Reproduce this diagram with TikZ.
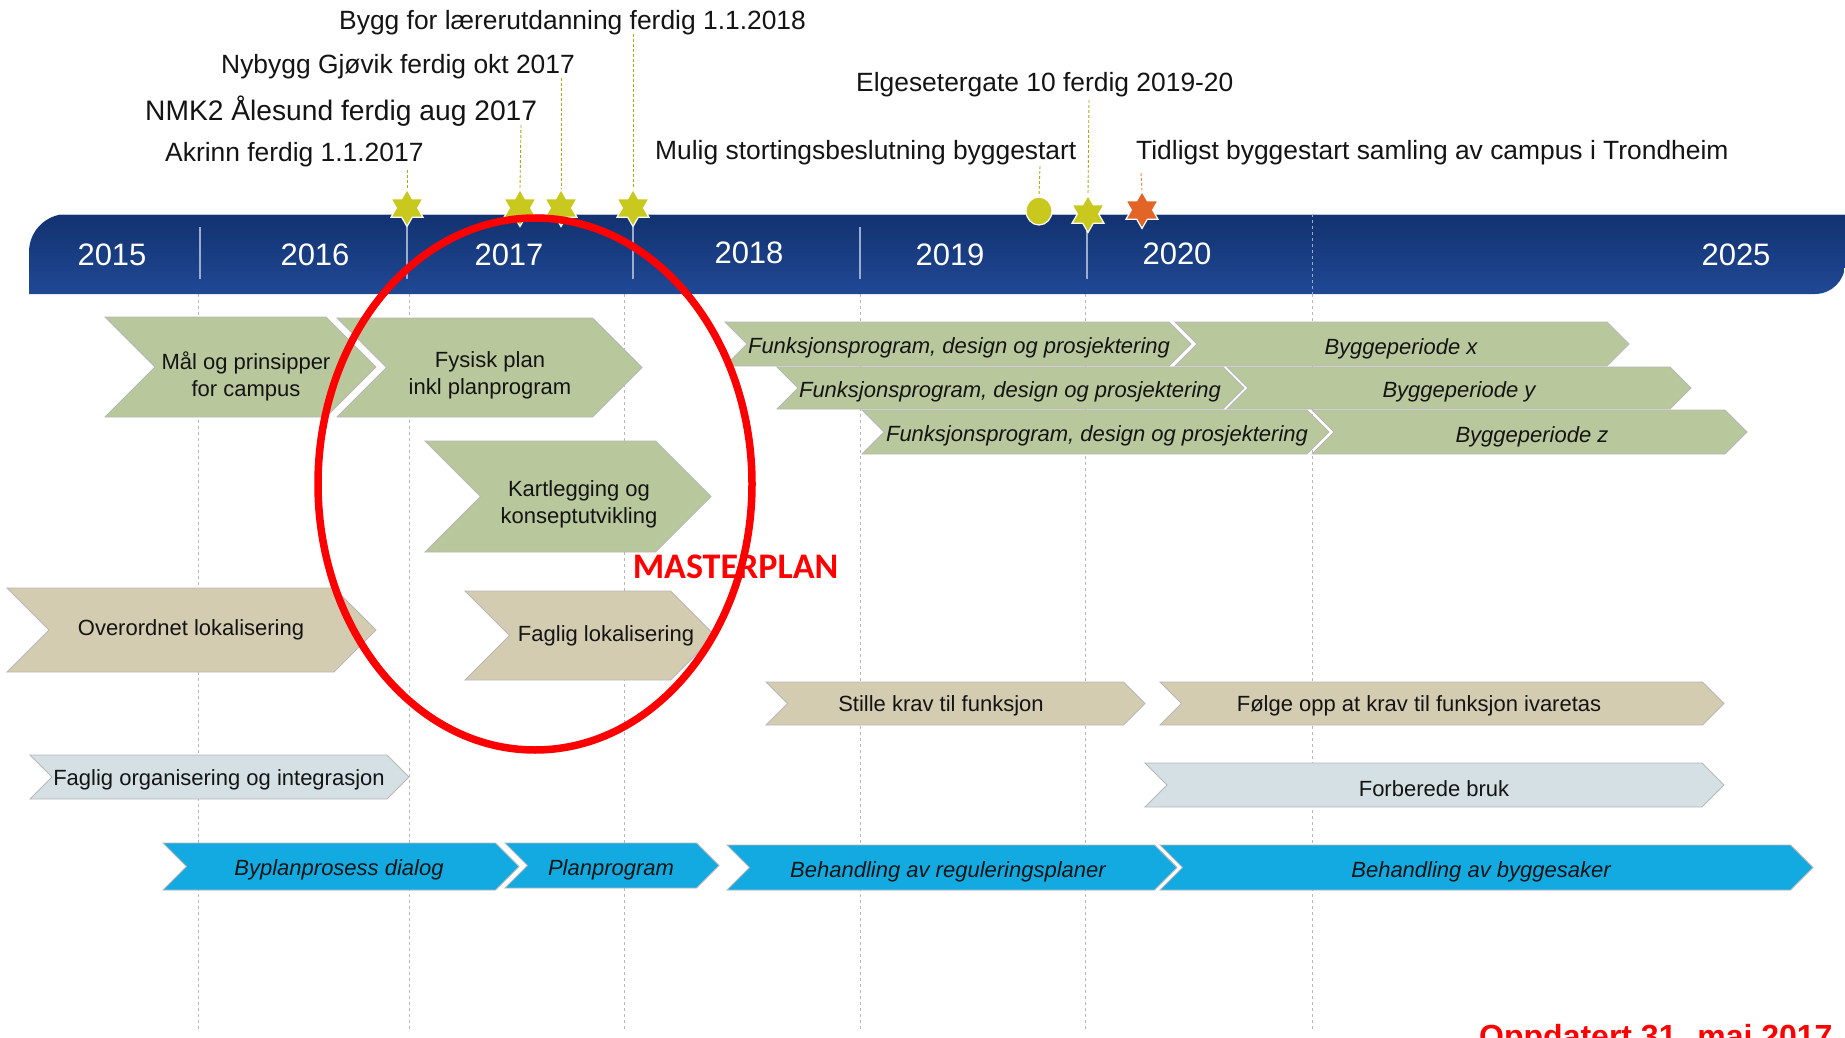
\documentclass[tikz,border=0pt]{standalone}
\usepackage{fontspec}
\setmainfont{Liberation Sans}
\newfontfamily\calibrifont{Carlito}
\usetikzlibrary{shapes.geometric}
\definecolor{chgreen}{RGB}{185,199,156}
\definecolor{chtan}{RGB}{212,204,177}
\definecolor{chgrey}{RGB}{212,224,228}
\definecolor{chblue}{RGB}{18,170,225}
\definecolor{bartop}{RGB}{18,50,112}
\definecolor{barbot}{RGB}{32,72,148}
\definecolor{staryel}{RGB}{200,200,30}
\definecolor{starorg}{RGB}{226,100,38}
\definecolor{mred}{RGB}{255,0,0}
\newcommand\chev[5]{%
  \pgfmathsetmacro\chevD{(#5-#4)/2}%
  \pgfmathsetmacro\chevM{(#5+#4)/2}%
  \filldraw[#1] (#2,#4) -- ({#3-\chevD},#4) -- (#3,\chevM) -- ({#3-\chevD},#5) -- (#2,#5) -- ({#2+\chevD},\chevM) -- cycle;
}
\tikzset{
  chevbase/.style={draw=black!28, line width=0.9pt, line join=miter},
  greenchev/.style={chevbase, fill=chgreen},
  tanchev/.style={chevbase, fill=chtan},
  greychev/.style={chevbase, fill=chgrey},
  bluechev/.style={chevbase, fill=chblue},
  lbl/.style={font=\fontsize{22}{27}\selectfont, align=center, text=black!92, inner sep=0pt, yshift=-2.5pt},
  ilbl/.style={lbl, font=\fontsize{22}{27}\selectfont\itshape},
  mile/.style={font=\fontsize{26.4}{30}\selectfont, anchor=base west, inner sep=0pt, text=black!92},
  yearlbl/.style={font=\fontsize{31}{34}\selectfont, text=white, anchor=base, inner sep=0pt},
  hexstar/.style={star, star points=6, star point ratio=1.732, minimum size=37pt, inner sep=0pt, draw=white, line width=1.2pt},
  mileline/.style={staryel!85!black, line width=0.9pt, dash pattern=on 3pt off 2pt},
  gridline/.style={black!28, line width=0.9pt, dash pattern=on 3pt off 3pt},
  sepline/.style={white!55!barbot, line width=1.2pt}
}
\begin{document}
\begin{tikzpicture}[x=1pt, y=-1pt]
\useasboundingbox (0,0) rectangle (1845,1038);
\clip (0,0) rectangle (1845,1038);
\fill[white] (0,0) rectangle (1845,1038);
% grid lines
\foreach \gx in {198,409,624,860,1085,1312} \draw[gridline] (\gx,294) -- (\gx,1030);
% timeline bar
\shade[top color=bartop, bottom color=barbot] (29,294) -- (29,252) arc[start angle=180, end angle=90, radius=38pt] -- (1845,214) -- (1845,264) arc[start angle=0, end angle=-90, radius=30pt] -- cycle;
\draw[white!70!bartop, line width=1pt] (60,214.5) -- (1845,214.5);
\foreach \sx in {200,407,633,860,1087} \draw[sepline] (\sx,227) -- (\sx,279);
\draw[white!55!barbot, line width=1pt, dash pattern=on 3pt off 3pt] (1312,214) -- (1312,294);
\node[yearlbl] (y2015) at (112,265) {2015};
\node[yearlbl] (y2016) at (315,265) {2016};
\node[yearlbl] (y2017) at (509,265) {2017};
\node[yearlbl] (y2018) at (749,263) {2018};
\node[yearlbl] (y2019) at (950,265) {2019};
\node[yearlbl] (y2020) at (1177,264) {2020};
\node[yearlbl] (y2025) at (1736,265) {2025};
% milestones
\node[mile] (mbygg) at (339,30) {Bygg for lærerutdanning ferdig 1.1.2018};
\node[mile] (mgjovik) at (221,74) {Nybygg Gjøvik ferdig okt 2017};
\node[mile, font=\fontsize{28.2}{32}\selectfont] (mnmk) at (145,121) {NMK2 Ålesund ferdig aug 2017};
\node[mile] (makrinn) at (165,162) {Akrinn ferdig 1.1.2017};
\node[mile] (melge) at (856,92) {Elgesetergate 10 ferdig 2019-20};
\node[mile] (mmulig) at (655,160) {Mulig stortingsbeslutning byggestart};
\node[mile] (mtidl) at (1136,160) {Tidligst byggestart samling av campus i Trondheim};
\coordinate (ta) at (407,170);
\coordinate (tn) at (521,125);
\coordinate (tg) at (561,78);
\coordinate (tb) at (633,34);
\coordinate (tm) at (1040,166);
\coordinate (te) at (1089,100);
\coordinate (tt) at (1141,173);
\node[hexstar, fill=staryel] (s1) at (407,208) {};
\node[hexstar, fill=staryel] (s2) at (520,208) {};
\node[hexstar, fill=staryel] (s3) at (561,208) {};
\node[hexstar, fill=staryel] (s4) at (633,208) {};
\node[ellipse, minimum width=26pt, minimum height=28pt, inner sep=0pt, fill=staryel, draw=white, line width=1.2pt] (c1) at (1039,211) {};
\node[hexstar, fill=staryel] (s5) at (1088,214) {};
\node[hexstar, fill=starorg] (s6) at (1142,210) {};
\draw[mileline] (ta) -- (s1.north);
\draw[mileline] (tn) -- (s2.north);
\draw[mileline] (tg) -- (s3.north);
\draw[mileline] (tb) -- (s4.north);
\draw[mileline] (tm) -- (c1.north);
\draw[mileline] (te) -- (s5.north);
\draw[line width=0.9pt, dash pattern=on 3pt off 2pt, starorg!80!white] (tt) -- (s6.north);
% chevrons
\chev{greenchev}{105}{376}{317}{417}
\chev{greenchev}{337}{642}{318}{417}
\chev{greenchev}{425}{711}{441}{552}
\chev{tanchev}{7}{376}{588}{672}
\chev{tanchev}{465}{715}{591}{680}
\chev{greychev}{30}{409}{755}{799}
\chev{bluechev}{163}{519}{843}{890}
\chev{bluechev}{505}{719}{843}{888}
\chev{bluechev}{727}{1177}{845}{890}
\chev{bluechev}{1160}{1813}{845}{890}
\chev{tanchev}{766}{1145}{682}{725}
\chev{tanchev}{1160}{1724}{682}{725}
\chev{greychev}{1145}{1724}{763}{807}
\chev{greenchev}{725}{1191}{322}{366}
\chev{greenchev}{1175}{1629}{322}{366}
\chev{greenchev}{777}{1244}{367}{409}
\chev{greenchev}{1227}{1691}{367}{409}
\chev{greenchev}{862}{1329}{410}{454}
\chev{greenchev}{1312}{1747}{410}{454}
% chevron texts
\node[lbl] (tmal) at (246,374) {Mål og prinsipper\\for campus};
\node[lbl] (tfys) at (490,373) {Fysisk plan\\inkl planprogram};
\node[lbl] (tkart) at (579,502) {Kartlegging og\\konseptutvikling};
\node[lbl] (tover) at (191,627) {Overordnet lokalisering};
\node[lbl] (tfagl) at (606,633) {Faglig lokalisering};
\node[lbl] (tforg) at (219,777) {Faglig organisering og integrasjon};
\node[ilbl] (tbypl) at (339,867) {Byplanprosess dialog};
\node[ilbl] (tplan) at (611,867) {Planprogram};
\node[ilbl] (tbreg) at (948,869) {Behandling av reguleringsplaner};
\node[ilbl] (tbbyg) at (1481,869) {Behandling av byggesaker};
\node[lbl] (tstil) at (941,703) {Stille krav til funksjon};
\node[lbl] (tfolg) at (1419,703) {Følge opp at krav til funksjon ivaretas};
\node[lbl] (tforb) at (1434,786) {Forberede bruk};
\node[ilbl] (tfun1) at (959,345) {Funksjonsprogram, design og prosjektering};
\node[ilbl] (tbyx) at (1401,346) {Byggeperiode x};
\node[ilbl] (tfun2) at (1010,389) {Funksjonsprogram, design og prosjektering};
\node[ilbl] (tbyy) at (1459,389) {Byggeperiode y};
\node[ilbl] (tfun3) at (1097,433) {Funksjonsprogram, design og prosjektering};
\node[ilbl] (tbyz) at (1532,434) {Byggeperiode z};
% masterplan
\node[font=\calibrifont\bfseries\fontsize{36}{40}\selectfont, text=mred, anchor=base, inner sep=0pt] (mp) at (735.5,578) {MASTERPLAN};
\draw[mred, line width=7.5pt] (535,484) ellipse [x radius=217pt, y radius=266pt];
\node[font=\bfseries\fontsize{32}{36}\selectfont, text=mred, anchor=base west, inner sep=0pt] (upd) at (1479,1047) {Oppdatert 31. mai 2017};
\end{tikzpicture}
\end{document}
